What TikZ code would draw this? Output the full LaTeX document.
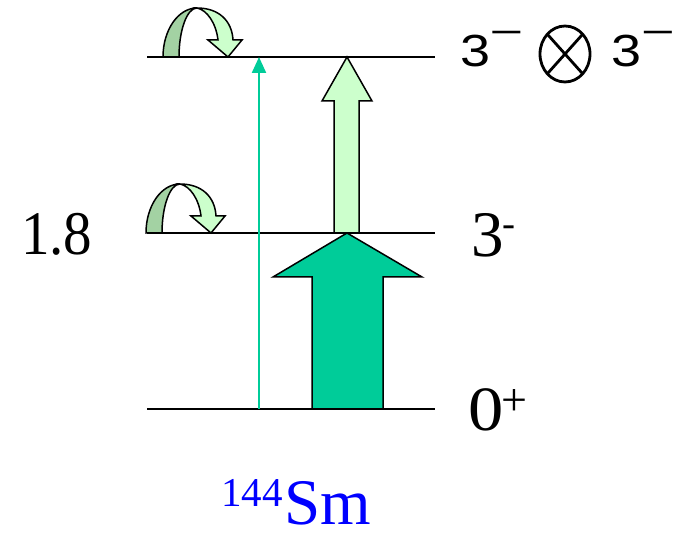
\documentclass[tikz,border=0pt]{standalone}
\usepackage{fontspec}
\usepackage{graphicx}
\setmainfont{Liberation Serif}
\newfontfamily\arialf{Liberation Sans}
\usetikzlibrary{arrows.meta,shapes.geometric}
\definecolor{bigteal}{HTML}{00CC99}
\definecolor{palegreen}{HTML}{CCFFCC}
\definecolor{backgreen}{HTML}{A3D2A3}
\definecolor{labelblue}{HTML}{0000FF}
\tikzset{
  levelline/.style={line width=2},
  outl/.style={draw=black,line width=1.5,line join=miter},
  lbl/.style={inner sep=0,outer sep=0,anchor=base west},
  sup/.style={inner sep=0,outer sep=0,anchor=base},
  curvarrow/.pic={
    \path[outl,fill=backgreen] (0,0) arc[start angle=180,end angle=90,x radius=34,y radius=49]
      arc[start angle=90,end angle=180,x radius=18,y radius=49] -- cycle;
    \path[outl,fill=palegreen] (34,49) .. controls (56,49) and (69,36) .. (70,17)
      -- (79,17) -- (65,0) -- (45,17) -- (55,17)
      .. controls (53,34) and (44,47) .. (34,49) -- cycle;
  }
}
\begin{document}
\begin{tikzpicture}[x=1pt,y=1pt]
\useasboundingbox (0,0) rectangle (679,532);
% levels
\coordinate (Al) at (147,475); \coordinate (Ar) at (435,475);
\coordinate (Bl) at (147,299); \coordinate (Br) at (435,299);
\coordinate (Cl) at (147,123); \coordinate (Cr) at (435,123);
\draw[levelline] (Al) -- (Ar);
\draw[levelline] (Bl) -- (Br);
\draw[levelline] (Cl) -- (Cr);
% light arrow
\path[outl,fill=palegreen] (334,299) -- (359,299) -- (359,431) -- (372,431) -- (347,475) -- (322,431) -- (334,431) -- cycle;
% big arrow
\path[outl,fill=bigteal] (312,123) -- (383,123) -- (383,255) -- (422,255) -- (347,299) -- (273,255) -- (312,255) -- cycle;
% thin arrow
\coordinate (ts) at (259,123); \coordinate (te) at (259,475);
\draw[bigteal,line width=2.2,-{Triangle[width=14,length=16]}] (ts) -- (te);
% curved arrows
\pic at (163,475) {curvarrow};
\pic at (146,299) {curvarrow};
% labels
\node[lbl] (e18) at (21,277) {\fontsize{62}{62}\selectfont\scalebox{0.92}[1]{1.8}};
\node[lbl] (l3) at (471,275) {\fontsize{65}{65}\selectfont 3};
\node[sup] (l3s) at (508.5,295) {\fontsize{39}{39}\selectfont -};
\node[lbl] (l0) at (468,101) {\fontsize{63}{63}\selectfont\scalebox{1.12}[1]{0}};
\node[sup] (l0s) at (514,116) {\fontsize{46}{46}\selectfont +};
\node[lbl] (t3a) at (460,465) {\arialf\fontsize{45}{45}\selectfont\scalebox{1.2}[1]{3}};
\node[sup] (t3as) at (506.5,487) {\arialf\fontsize{36}{36}\selectfont\scalebox{1.6}[1]{−}};
\coordinate (ot) at (565,478);
\draw[line width=2.8] (ot) ellipse[x radius=25,y radius=28];
\draw[line width=2.8] ([shift={(17.7,19.8)}]ot) -- ([shift={(-17.7,-19.8)}]ot);
\draw[line width=2.8] ([shift={(-17.7,19.8)}]ot) -- ([shift={(17.7,-19.8)}]ot);
\node[lbl] (t3b) at (611,465) {\arialf\fontsize{45}{45}\selectfont\scalebox{1.2}[1]{3}};
\node[sup] (t3bs) at (658,487) {\arialf\fontsize{36}{36}\selectfont\scalebox{1.6}[1]{−}};
\node[lbl,text=labelblue] (nuc) at (221,25) {\fontsize{41}{41}\selectfont 144};
\node[lbl,text=labelblue] (sm) at (284,8) {\fontsize{65}{65}\selectfont Sm};
\end{tikzpicture}
\end{document}
